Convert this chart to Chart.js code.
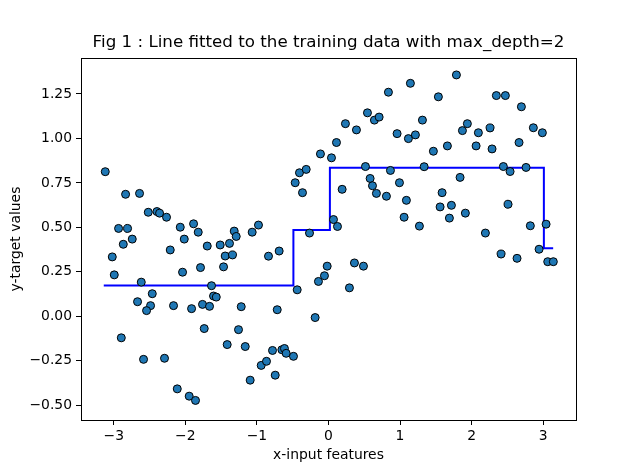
<!DOCTYPE html>
<html><head><meta charset="utf-8">
<script src="https://cdn.jsdelivr.net/npm/chart.js@4.4.1/dist/chart.umd.min.js"></script>
<style>html,body{margin:0;padding:0;background:#fff;} #wrap{width:640px;height:472px;}</style>
</head><body><div id="wrap"><canvas id="c" width="640" height="472"></canvas></div>
<script>
const xValues = [-3.119,-2.835,-2.640,-2.518,-2.397,-2.360,-2.263,-2.933,-2.807,-2.742,-2.867,-3.021,-2.993,-2.616,-2.462,-2.668,-2.486,-2.542,-2.895,-2.584,-2.291,-2.113,-1.946,-1.858,-2.071,-1.885,-1.820,-2.015,-2.211,-2.039,-1.788,-1.694,-1.513,-1.383,-1.317,-1.289,-1.443,-1.341,-1.466,-1.066,-0.978,-1.634,-1.606,-1.568,-2.165,-1.913,-1.760,-1.662,-1.219,-1.736,-1.257,-1.415,-1.163,-0.940,-1.094,
-0.838,-0.689,-0.782,-0.651,-0.615,-0.591,-0.489,-0.866,-0.744,-0.716,-0.437,-0.186,-0.265,-0.140,-0.056,-0.018,0.070,0.126,
-0.465,-0.405,-0.311,-0.363,0.293,0.363,0.489,0.191,-0.112,0.042,0.112,0.237,0.391,0.545,0.642,0.708,0.838,1.145,1.313,0.959,1.117,1.215,0.517,0.866,1.337,0.582,0.615,0.670,0.810,0.992,1.089,1.057,1.271,
1.788,1.536,2.346,2.472,2.696,1.941,1.872,2.095,2.258,2.863,2.989,1.466,1.662,2.063,2.286,2.663,2.444,2.538,2.761,1.839,1.588,1.560,1.718,1.690,1.913,2.510,2.193,2.821,3.041,2.412,2.635,2.943,3.064,3.142];
const yValues = [0.813,0.686,0.691,0.585,0.589,0.580,0.557,0.494,0.494,0.434,0.405,0.334,0.233,0.192,0.127,0.082,0.060,0.032,-0.121,-0.242,-0.236,-0.408,-0.449,-0.473,0.501,0.520,0.473,0.434,0.373,0.248,0.274,0.395,0.401,0.410,0.479,0.449,0.339,0.345,0.278,0.473,0.513,0.172,0.114,0.108,0.060,0.043,0.067,0.056,0.054,-0.069,-0.075,-0.159,-0.170,-0.276,-0.359,
0.338,0.367,-0.192,-0.188,-0.181,-0.208,-0.225,-0.253,-0.331,0.037,0.149,-0.007,0.468,0.196,0.228,0.282,0.544,0.505,
0.751,0.807,0.826,0.695,0.160,0.300,0.282,0.714,0.913,0.891,0.977,1.083,1.048,1.144,1.103,1.120,1.260,1.310,1.103,1.027,0.999,1.020,0.842,0.820,0.841,0.775,0.734,0.691,0.675,0.751,0.652,0.557,0.507,
1.357,1.234,1.241,1.241,1.178,1.083,1.044,1.032,1.059,1.060,1.032,0.928,0.958,0.958,0.941,0.977,0.842,0.814,0.837,0.781,0.695,0.615,0.624,0.552,0.580,0.630,0.468,0.509,0.518,0.350,0.326,0.377,0.307,0.307];
const stepEdges = [-3.14, -0.49, 0.02, 3.01, 3.14];
const stepLevels = [0.173, 0.485, 0.835, 0.382];
const xTicks = [-3, -2, -1, 0, 1, 2, 3];
const xTickLabels = ['\u22123', '\u22122', '\u22121', '0', '1', '2', '3'];
const yTicks = [-0.5, -0.25, 0, 0.25, 0.5, 0.75, 1.0, 1.25];
const yTickLabels = ['\u22120.50', '\u22120.25', '0.00', '0.25', '0.50', '0.75', '1.00', '1.25'];

const scatterData = xValues.map((x, i) => ({x: x, y: yValues[i]}));
const lineData = [];
stepLevels.forEach((lv, i) => {
  lineData.push({x: stepEdges[i], y: lv});
  lineData.push({x: stepEdges[i + 1], y: lv});
});

const FONT = 'DejaVu Sans';
const frame = {
  id: 'frame',
  afterLayout(chart) {
    const t = chart.titleBlock, a = chart.chartArea;
    if (t) { t.left = a.left; t.right = a.right; t.width = a.right - a.left; }
  },
  afterDraw(chart) {
    const {ctx, chartArea: a} = chart;
    ctx.save();
    ctx.strokeStyle = '#000';
    ctx.lineWidth = 1;
    ctx.strokeRect(Math.round(a.left) + 0.5, Math.round(a.top) + 0.5, Math.round(a.right - a.left), Math.round(a.bottom - a.top));
    ctx.restore();
  }
};

new Chart(document.getElementById('c'), {
  type: 'scatter',
  data: {
    datasets: [
      {type: 'scatter', data: scatterData, order: 0, pointRadius: 4, pointHoverRadius: 4,
       backgroundColor: '#1f77b4', borderColor: '#000', borderWidth: 1},
      {type: 'line', data: lineData, order: 1, borderColor: '#0000ff', borderWidth: 2,
       pointRadius: 0, fill: false, tension: 0, showLine: true}
    ]
  },
  options: {
    responsive: false,
    animation: false,
    events: [],
    layout: {padding: {left: 0, right: 64, top: 0, bottom: 0}},
    plugins: {
      legend: {display: false},
      tooltip: {enabled: false},
      title: {display: true, text: 'Fig 1 : Line fitted to the training data with max_depth=2',
        color: '#000', font: {family: FONT, size: 16.7, weight: 'normal'}, padding: {top: 33, bottom: 5}}
    },
    scales: {
      x: {
        type: 'linear', position: 'bottom', min: -3.458, max: 3.459,
        afterBuildTicks: s => { s.ticks = xTicks.map(v => ({value: v})); },
        afterFit: s => { s.height = 52; },
        ticks: {color: '#000', font: {family: FONT, size: 13.9}, padding: 3,
          maxRotation: 0, autoSkip: false,
          callback: v => xTickLabels[xTicks.indexOf(v)]},
        grid: {drawOnChartArea: false, drawTicks: true, tickLength: 5, color: '#000'},
        border: {display: true, color: '#000', width: 1},
        title: {display: true, text: 'x-input features', color: '#000',
          font: {family: FONT, size: 13.9}, padding: {top: 0, bottom: 8}}
      },
      y: {
        type: 'linear', position: 'left', min: -0.583, max: 1.452,
        afterBuildTicks: s => { s.ticks = yTicks.map(v => ({value: v})); },
        afterFit: s => { s.width = 81; },
        ticks: {color: '#000', font: {family: FONT, size: 13.9}, padding: 4,
          autoSkip: false,
          callback: v => yTickLabels[yTicks.indexOf(v)]},
        grid: {drawOnChartArea: false, drawTicks: true, tickLength: 5, color: '#000'},
        border: {display: true, color: '#000', width: 1},
        title: {display: true, text: 'y-target values', color: '#000',
          font: {family: FONT, size: 13.9}, padding: {top: 8, bottom: 0}}
      }
    }
  },
  plugins: [frame]
});
</script>
</body></html>
